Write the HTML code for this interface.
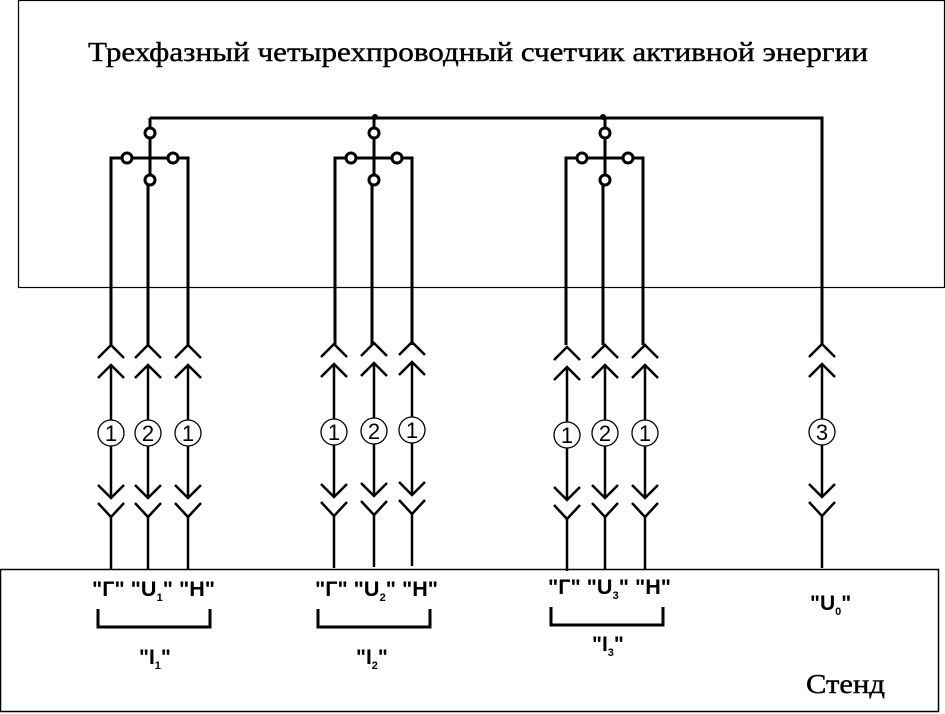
<!DOCTYPE html>
<html><head><meta charset="utf-8"><style>
html,body{margin:0;padding:0;background:#fff}
svg{display:block}
.s{font-family:"Liberation Sans",sans-serif;font-weight:bold}
</style></head><body>
<svg width="945" height="714" viewBox="0 0 945 714" xmlns="http://www.w3.org/2000/svg">
<defs>
<g id="w" fill="none" stroke="#000" stroke-width="2.5">
<polyline points="-13,358 0,345 13,358"/>
<polyline points="-13,378 0,365 13,378"/>
<line x1="0" y1="365" x2="0" y2="420"/>
<circle cx="0" cy="433" r="13" stroke-width="1.3" fill="#fff"/>
<line x1="0" y1="446" x2="0" y2="497"/>
<polyline points="-13,485 0,498 13,485"/>
<polyline points="-13,503 0,517 13,503"/>
<line x1="0" y1="517" x2="0" y2="569"/>
</g>
<g id="m" fill="none" stroke="#000" stroke-width="3">
<line x1="0" y1="118" x2="0" y2="128"/>
<circle cx="0" cy="133" r="5" fill="#fff"/>
<line x1="0" y1="138" x2="0" y2="175"/>
<polyline points="-39,345 -39,158 -28,158"/>
<circle cx="-23" cy="158" r="5" fill="#fff"/>
<line x1="-18" y1="158" x2="18" y2="158"/>
<circle cx="23" cy="158" r="5" fill="#fff"/>
<polyline points="28,158 38,158 38,345"/>
<circle cx="0" cy="180" r="5" fill="#fff"/>
<line x1="-2" y1="185" x2="-2" y2="345"/>
</g>
</defs>
<rect x="18.5" y="0.5" width="926" height="287" fill="none" stroke="#000" stroke-width="1.2"/>
<rect x="0.5" y="569.5" width="938" height="142" fill="none" stroke="#000" stroke-width="1.5"/>
<text x="88" y="61" font-family="Liberation Serif,serif" font-size="27" textLength="780" lengthAdjust="spacingAndGlyphs" stroke="#000" stroke-width="0.4">Трехфазный четырехпроводный счетчик активной энергии</text>
<polyline points="150,118 822,118 822,345" fill="none" stroke="#000" stroke-width="3"/>
<circle cx="375" cy="117" r="3"/><circle cx="603" cy="117" r="3"/>
<use href="#m" x="150"/><use href="#m" x="374"/><use href="#m" x="605"/>
<use href="#w" x="111"/><use href="#w" x="148"/><use href="#w" x="188"/>
<use href="#w" x="334" y="-1"/><use href="#w" x="374" y="-2"/><use href="#w" x="412" y="-3"/>
<use href="#w" x="567" y="2"/><use href="#w" x="605"/><use href="#w" x="645"/>
<use href="#w" x="822" y="-1"/>
<g font-size="22" text-anchor="middle" font-family="Liberation Sans,sans-serif">
<text x="111" y="441">1</text><text x="148" y="441">2</text><text x="188" y="441">1</text>
<text x="334" y="440">1</text><text x="374" y="439">2</text><text x="412" y="438">1</text>
<text x="567" y="443">1</text><text x="605" y="441">2</text><text x="645" y="441">1</text>
<text x="822" y="440">3</text>
</g>
<g class="s" font-size="21">
<text x="92" y="596" textLength="123" lengthAdjust="spacingAndGlyphs">"Г" "U<tspan font-size="11" dy="5">1</tspan><tspan dy="-5">" "H"</tspan></text>
<text x="315" y="596" textLength="123" lengthAdjust="spacingAndGlyphs">"Г" "U<tspan font-size="11" dy="5">2</tspan><tspan dy="-5">" "H"</tspan></text>
<text x="548" y="594" textLength="123" lengthAdjust="spacingAndGlyphs">"Г" "U<tspan font-size="11" dy="5">3</tspan><tspan dy="-5">" "H"</tspan></text>
<text x="810" y="610">"U<tspan font-size="11" dy="5">0</tspan><tspan dy="-5">"</tspan></text>
<text x="139" y="664">"I<tspan font-size="11" dy="5">1</tspan><tspan dy="-5">"</tspan></text>
<text x="356" y="664">"I<tspan font-size="11" dy="5">2</tspan><tspan dy="-5">"</tspan></text>
<text x="592" y="651">"I<tspan font-size="11" dy="5">3</tspan><tspan dy="-5">"</tspan></text>
</g>
<g fill="none" stroke="#000" stroke-width="3">
<polyline points="98,609 98,627 210,627 210,609"/>
<polyline points="318,609 318,627 430,627 430,609"/>
<polyline points="551,607 551,625 663,625 663,607"/>
</g>
<text x="806" y="693" font-family="Liberation Serif,serif" font-size="27" textLength="79" lengthAdjust="spacingAndGlyphs" stroke="#000" stroke-width="0.4">Стенд</text>
</svg>
</body></html>
